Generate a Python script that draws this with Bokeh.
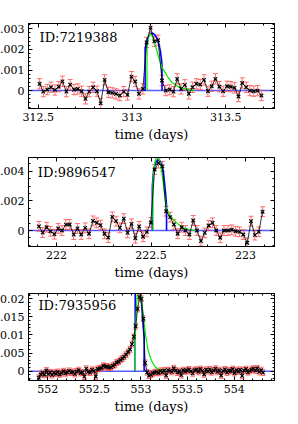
from bokeh.plotting import figure
from bokeh.layouts import column
from bokeh.models import ColumnDataSource, Whisker, TeeHead, FixedTicker, Label, Range1d, Span, LinearAxis
from bokeh.embed import file_html
from bokeh.resources import INLINE

SERIF = "DejaVu Serif"
ERR_COLOR = "#ff4040"
XLABEL = "time (days)"

# ---------------- panel 1 ----------------
id1 = "ID:7219388"
t1 = [312.507, 312.527, 312.548, 312.568, 312.589, 312.609, 312.629, 312.650, 312.670, 312.691,
      312.711, 312.731, 312.752, 312.772, 312.793, 312.813, 312.833, 312.854, 312.874, 312.895,
      312.915, 312.935, 312.956, 312.976, 312.997, 313.017, 313.037, 313.058, 313.078, 313.099,
      313.119, 313.139, 313.160, 313.180, 313.201, 313.221, 313.241, 313.262, 313.282, 313.303,
      313.323, 313.343, 313.364, 313.384, 313.405, 313.425, 313.445, 313.466, 313.486, 313.507,
      313.527, 313.547, 313.568, 313.588, 313.609, 313.629, 313.649, 313.670, 313.690]
f1 = [0.33, -0.05, 0.05, 0.16, 0.03, 0.19, 0.45, -0.05, 0.29, 0.05,
      0.08, -0.03, -0.40, -0.05, 0.16, -0.03, -0.62, 0.52, -0.08, -0.11,
      -0.16, -0.24, -0.05, -0.21, 0.68, 0.44, -0.16, 0.08, 2.34, 3.06,
      2.39, 2.45, 0.49, 0.00, 0.05, -0.05, 0.57, 0.08, 0.28, -0.16,
      0.16, 0.33, 0.29, 0.52, -0.03, 0.21, 0.57, 0.19, -0.03, 0.21,
      0.19, 0.13, -0.29, 0.37, 0.16, 0.00, -0.03, 0.00, -0.24]   # x 1e-3
e1 = 0.25
blue_t1 = [313.070, 313.070, 313.076, 313.083, 313.094, 313.104, 313.115, 313.125, 313.135,
           313.143, 313.151, 313.158, 313.160, 313.160]
blue_f1 = [0, 2.04, 2.33, 2.55, 2.72, 2.78, 2.77, 2.67, 2.50, 2.28, 1.94, 1.46, 1.2, 0]
green_t1 = [313.080, 313.080, 313.083, 313.089, 313.095, 313.102, 313.111, 313.125, 313.142,
            313.160, 313.186, 313.212, 313.246, 313.290, 313.333]
green_f1 = [0, 1.9, 2.35, 2.62, 2.75, 2.72, 2.59, 2.18, 1.62, 1.13, 0.73, 0.40, 0.19, 0.06, 0.0]
xt1 = [312.5, 313.0, 313.5]
xl1 = ["312.5", "313", "313.5"]
yt1 = [0.0, 0.001, 0.002, 0.003]
yl1 = ["0", "0.001", "0.002", "0.003"]

# ---------------- panel 2 ----------------
id2 = "ID:9896547"
t2 = [221.907, 221.927, 221.948, 221.968, 221.989, 222.009, 222.029, 222.050, 222.070, 222.091,
      222.111, 222.131, 222.152, 222.172, 222.193, 222.213, 222.233, 222.254, 222.274, 222.295,
      222.315, 222.335, 222.356, 222.376, 222.397, 222.417, 222.437, 222.458, 222.478, 222.499,
      222.519, 222.539, 222.560, 222.580, 222.601, 222.621, 222.641, 222.662, 222.682, 222.703,
      222.723, 222.743, 222.764, 222.784, 222.805, 222.825, 222.845, 222.866, 222.886, 222.907,
      222.927, 222.947, 222.968, 222.988, 223.009, 223.029, 223.049, 223.070, 223.090]
f2 = [0.28, -0.14, 0.22, -0.05, -0.25, 0.14, 0.00, 0.40, 0.41, -0.28,
      0.14, -0.27, 0.18, -0.22, 0.65, 0.52, 0.36, -0.22, -0.48, 0.92,
      0.63, 0.18, 0.80, -0.16, 0.45, -0.52, 0.28, -0.42, -0.09, 0.54,
      4.12, 4.55, 4.33, 1.30, 0.90, 0.41, -0.22, 0.22, 0.00, -0.27,
      0.68, 0.00, -0.72, -0.16, 0.34, 0.52, 0.00, -0.49, 0.00, 0.00,
      0.05, -0.05, -0.09, -0.27, -0.83, 0.63, -0.31, -0.09, 1.27]   # x 1e-3
e2 = 0.33
blue_t2 = [222.507, 222.507, 222.512, 222.518, 222.526, 222.536, 222.546, 222.556, 222.565,
           222.571, 222.578, 222.582, 222.582]
blue_f2 = [0, 3.0, 3.8, 4.3, 4.6, 4.78, 4.72, 4.45, 4.0, 3.3, 2.4, 1.7, 0]
green_t2 = [222.510, 222.510, 222.514, 222.520, 222.528, 222.536, 222.546, 222.556, 222.565,
            222.573, 222.582, 222.598, 222.616, 222.641, 222.667, 222.701, 222.735]
green_f2 = [0, 3.2, 4.05, 4.6, 4.9, 4.98, 4.7, 4.05, 3.15, 2.25, 1.47, 1.08, 0.79, 0.45, 0.22, 0.07, 0.0]
xt2 = [222.0, 222.5, 223.0]
xl2 = ["222", "222.5", "223"]
yt2 = [0.0, 0.002, 0.004]
yl2 = ["0", "0.002", "0.004"]

# ---------------- panel 3 ----------------
id3 = "ID:7935956"
t3 = [551.903, 551.923, 551.944, 551.964, 551.985, 552.005, 552.025, 552.046, 552.066, 552.087,
      552.107, 552.127, 552.148, 552.168, 552.189, 552.209, 552.229, 552.250, 552.270, 552.291,
      552.311, 552.331, 552.352, 552.372, 552.393, 552.413, 552.433, 552.454, 552.474, 552.495,
      552.515, 552.535, 552.556, 552.576, 552.597, 552.617, 552.637, 552.658, 552.678, 552.699,
      552.719, 552.739, 552.760, 552.780, 552.801, 552.821, 552.841, 552.862, 552.882, 552.903,
      552.923, 552.943, 552.964, 552.984, 553.005, 553.025, 553.045, 553.066, 553.086, 553.107,
      553.127, 553.147, 553.168, 553.188, 553.209, 553.229, 553.249, 553.270, 553.290, 553.311,
      553.331, 553.351, 553.372, 553.392, 553.413, 553.433, 553.453, 553.474, 553.494, 553.515,
      553.535, 553.555, 553.576, 553.596, 553.617, 553.637, 553.657, 553.678, 553.698, 553.719,
      553.739, 553.759, 553.780, 553.800, 553.821, 553.841, 553.861, 553.882, 553.902, 553.923,
      553.943, 553.963, 553.984, 554.004, 554.025, 554.045, 554.065, 554.086, 554.106, 554.127,
      554.147, 554.167, 554.188, 554.208, 554.229, 554.249, 554.269, 554.290, 554.310]
f3 = [-1.8, -0.9, -0.5, -1.0, 0.2, -0.8, -0.3, -1.1, -0.4, -0.7,
      -0.2, -0.9, -0.5, 0.0, -0.6, -0.3, 0.1, -0.4, -0.2, -0.8,
      -0.1, 0.3, -0.5, -0.3, -1.5, 0.7, -0.2, -0.4, 0.4, 0.1,
      -1.5, 0.6, 0.7, 0.9, 1.5, 1.2, 1.3, 1.0, 1.1, 1.5,
      1.8, 2.4, 2.6, 3.1, 3.5, 4.0, 4.6, 5.3, 6.0, 7.5,
      9.5, 12.4, 17.2, 20.5, 20.0, 14.5, 2.3, -0.3, -1.2, -1.0,
      -0.6, -0.4, -0.2, -0.5, 0.1, -0.3, 0.2, -1.2, 0.3, 0.1,
      -0.2, 0.8, 0.2, -0.4, 0.0, -1.1, 0.3, -0.1, 0.2, 0.5,
      0.0, -0.6, 0.3, 0.4, -0.2, 0.6, 0.1, -0.9, 0.4, 0.0,
      0.5, -0.3, 0.2, 0.7, -0.2, 0.3, -1.2, 0.1, 0.5, -0.4,
      0.2, 0.0, 0.6, -0.5, 0.3, -0.1, 0.4, -1.3, 0.2, 0.6,
      -0.3, 0.1, 0.4, 0.7, 0.2, 0.8, -0.2, 0.3, -0.4]   # x 1e-3
e3 = 0.8
blue_t3 = [552.938, 552.938, 552.950, 552.965, 552.980, 552.995, 553.010, 553.025, 553.034, 553.034]
blue_f3 = [0, 22.0, 24.0, 25.0, 24.0, 21.5, 17.5, 12.0, 9.5, 0]
green_t3 = [552.940, 552.940, 552.950, 552.960, 552.975, 552.990, 553.005, 553.020, 553.036,
            553.055, 553.075, 553.100, 553.125, 553.150, 553.180, 553.220, 553.270]
green_f3 = [0, 10.0, 17.0, 21.5, 23.0, 22.5, 20.0, 16.5, 13.1, 9.0, 6.0, 3.8, 2.3, 1.3, 0.6, 0.2, 0.0]
xt3 = [552.0, 552.5, 553.0, 553.5, 554.0]
xl3 = ["552", "552.5", "553", "553.5", "554"]
yt3 = [0.0, 0.005, 0.01, 0.015, 0.02]
yl3 = ["0", "0.005", "0.01", "0.015", "0.02"]


def steps(a, b, d):
    n = int(round((b - a) / d))
    return [round(a + i * d, 6) for i in range(n + 1)]


def style_axis(ax, ticks, minor, labels=None):
    ax.ticker = FixedTicker(ticks=ticks, minor_ticks=minor)
    ax.major_tick_in = 4
    ax.major_tick_out = 0
    ax.minor_tick_in = 2
    ax.minor_tick_out = 0
    ax.axis_line_color = "black"
    ax.major_tick_line_color = "black"
    ax.minor_tick_line_color = "black"
    if labels is not None:
        ax.major_label_overrides = {tk: lb for tk, lb in zip(ticks, labels)}
        ax.major_label_text_font = SERIF
        ax.major_label_text_font_size = "11px"
        ax.major_label_text_color = "black"
        ax.major_label_standoff = 4
    else:
        ax.major_label_text_color = None
        ax.major_label_text_alpha = 0
        ax.major_label_text_font_size = "0px"
        ax.major_label_standoff = 0


def panel(ident, t, f, e, bt, bf, gt, gf, xt, xl, yt, yl, xr, yr, xminor, yminor,
          lab, fw, fh, left, top, bottom=36, right=8):
    k = 1e-3
    fy = [v * k for v in f]
    src = ColumnDataSource(dict(t=t, f=fy, lo=[v - e * k for v in fy], hi=[v + e * k for v in fy]))
    p = figure(output_backend="svg", toolbar_location=None,
               width=left + fw + right, height=top + fh + bottom,
               x_range=Range1d(*xr), y_range=Range1d(*yr),
               min_border_top=top, min_border_bottom=bottom, min_border_left=left,
               min_border_right=right,
               background_fill_color="white", border_fill_color="white")
    p.grid.visible = False
    p.outline_line_color = "black"
    p.outline_line_width = 1

    xa = p.xaxis[0]
    ya = p.yaxis[0]
    style_axis(xa, xt, xminor, xl)
    style_axis(ya, yt, yminor, yl)
    xa.axis_label = XLABEL
    xa.axis_label_text_font = SERIF
    xa.axis_label_text_font_size = "13px"
    xa.axis_label_text_font_style = "normal"
    xa.axis_label_text_color = "black"
    xa.axis_label_standoff = 3

    top_ax = LinearAxis()
    style_axis(top_ax, xt, xminor)
    p.add_layout(top_ax, "above")
    right_ax = LinearAxis()
    style_axis(right_ax, yt, yminor)
    p.add_layout(right_ax, "right")

    p.add_layout(Span(location=0, dimension="width", line_color="#5a5aff",
                      line_width=1.5, level="underlay"))
    p.add_layout(Whisker(source=src, base="t", upper="hi", lower="lo",
                         line_color=ERR_COLOR, line_alpha=0.75, line_width=1,
                         upper_head=TeeHead(size=5, line_color=ERR_COLOR, line_alpha=0.75, line_width=1),
                         lower_head=TeeHead(size=5, line_color=ERR_COLOR, line_alpha=0.75, line_width=1)))
    p.line(list(bt), [v * k for v in bf], line_color="#0000ff", line_width=1.6)
    p.line(list(gt), [v * k for v in gf], line_color="#00ee00", line_width=1.2)
    p.line("t", "f", source=src, line_color="black", line_width=0.8)
    p.scatter("t", "f", source=src, marker="x", size=5, line_color="black", line_width=1.2)

    p.add_layout(Label(x=lab[0], y=lab[1], text=ident, text_font=SERIF, text_font_size="13px",
                       text_baseline="top", text_align="left", text_color="black"))
    return p


p1 = panel(id1, t1, f1, e1, blue_t1, blue_f1, green_t1, green_f1, xt1, xl1, yt1, yl1,
           (312.448, 313.760), (-0.00087, 0.00326),
           steps(312.5, 313.7, 0.1), steps(-0.0008, 0.0032, 0.0002),
           (312.507, 0.00296), 252, 85, 40, 23)
p2 = panel(id2, t2, f2, e2, blue_t2, blue_f2, green_t2, green_f2, xt2, xl2, yt2, yl2,
           (221.852, 223.153), (-0.00108, 0.00493),
           steps(221.9, 223.1, 0.1), steps(-0.001, 0.0045, 0.0005),
           (221.9015, 0.00441), 255, 89, 37, 13)
p3 = panel(id3, t3, f3, e3, blue_t3, blue_f3, green_t3, green_f3, xt3, xl3, yt3, yl3,
           (551.793, 554.433), (-0.00257, 0.02146),
           steps(551.8, 554.4, 0.1), steps(-0.002, 0.021, 0.001),
           (551.900, 0.02025), 246, 87, 46, 11)

layout = column(p1, p2, p3, spacing=0, styles={"margin-left": "-18px"})
open("out.html", "w").write(file_html(layout, INLINE))
